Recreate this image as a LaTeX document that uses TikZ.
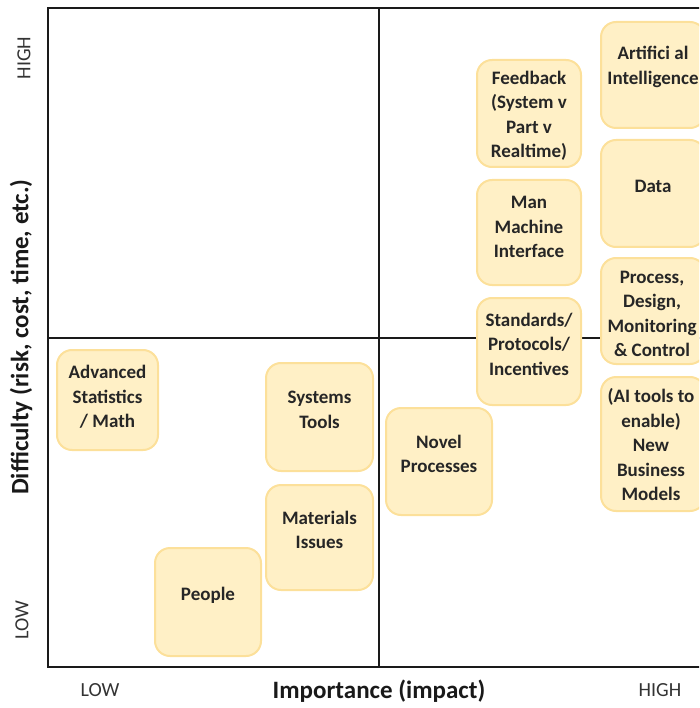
\documentclass[tikz,border=0pt]{standalone}
\usepackage{fontspec}
\setmainfont{Carlito}
\definecolor{boxfill}{HTML}{FFF0C6}
\definecolor{boxline}{HTML}{FCE09A}
\definecolor{frameline}{HTML}{1A1A1A}
\tikzset{
  box/.style={draw=boxline, fill=boxfill, line width=2pt, rounded corners=15pt, minimum width=106pt, minimum height=107pt, inner sep=0pt},
  boxtext/.style={font=\fontsize{19}{24.5}\selectfont\bfseries, align=center, inner sep=0pt, text=black!85},
  axis/.style={line width=2pt, draw=frameline},
  ticklab/.style={font=\fontsize{20}{24}\selectfont, text=black!80},
  axislab/.style={font=\fontsize{25}{30}\selectfont\bfseries, text=black!90}
}
\begin{document}
\begin{tikzpicture}[x=1pt,y=-1pt]
\useasboundingbox (0,0) rectangle (699,708);
\begin{scope}
\clip (0,0) rectangle (699,708);
% frame
\coordinate (tl) at (48,8);
\coordinate (tr) at (720,8);
\coordinate (bl) at (48,667);
\coordinate (br) at (720,667);
\coordinate (ml) at (48,338);
\coordinate (mr) at (720,338);
\coordinate (mt) at (379,8);
\coordinate (mb) at (379,667);
\draw[axis] (tr) -- (tl) -- (bl) -- (br);
\draw[axis] (ml) -- (mr);
\draw[axis] (mt) -- (mb);
% boxes
\node[box, minimum width=104pt, minimum height=106pt] (ai) at (653,75) {};
\node[boxtext] (tai) at (653,67) {Artifici al\\Intelligence};
\node[box, minimum width=104pt, minimum height=107pt] (fb) at (529,113.5) {};
\node[boxtext] (tfb) at (529,116) {Feedback\\(System v\\Part v\\Realtime)};
\node[box, minimum width=104pt, minimum height=107pt] (data) at (653,193.5) {};
\node[boxtext] (tdata) at (653,186) {Data};
\node[box, minimum width=104pt, minimum height=105pt] (mmi) at (529,232.5) {};
\node[boxtext] (tmmi) at (529,227) {Man\\Machine\\Interface};
\node[box, minimum width=104pt, minimum height=106pt] (pdmc) at (653,311) {};
\node[boxtext] (tpdmc) at (652,314) {Process,\\Design,\\Monitoring\\\& Control};
\node[box, minimum width=104pt, minimum height=107pt] (spi) at (529,351.5) {};
\node[boxtext] (tspi) at (529,344) {Standards/\\Protocols/\\Incentives};
\node[box, minimum width=104pt, minimum height=134pt] (nbm) at (653,444) {};
\node[boxtext] (tnbm) at (651,445) {(AI tools to\\enable)\\New\\Business\\Models};
\node[box, minimum width=106pt, minimum height=107pt] (np) at (439,461.5) {};
\node[boxtext] (tnp) at (439,454) {Novel\\Processes};
\node[box, minimum width=101pt, minimum height=100pt] (asm) at (107.5,400) {};
\node[boxtext] (tasm) at (107.5,397) {Advanced\\Statistics\\/ Math};
\node[box, minimum width=107pt, minimum height=108pt] (st) at (319.5,417) {};
\node[boxtext] (tst) at (319.5,410) {Systems\\Tools};
\node[box, minimum width=107pt, minimum height=105pt] (mi) at (319.5,537.5) {};
\node[boxtext] (tmi) at (319.5,530) {Materials\\Issues};
\node[box, minimum width=106pt, minimum height=108pt] (people) at (208,602) {};
\node[boxtext] (tpeople) at (208,595) {People};
\end{scope}
% axis labels
\node[ticklab, rotate=90] (yhigh) at (24,58) {HIGH};
\node[ticklab, rotate=90] (ylow) at (22,620) {LOW};
\node[axislab, rotate=90] (ylab) at (21,337) {Difficulty (risk, cost, time, etc.)};
\node[ticklab] (xlow) at (100,690) {LOW};
\node[ticklab] (xhigh) at (660,690) {HIGH};
\node[axislab] (xlab) at (379,691) {Importance (impact)};
\end{tikzpicture}
\end{document}
